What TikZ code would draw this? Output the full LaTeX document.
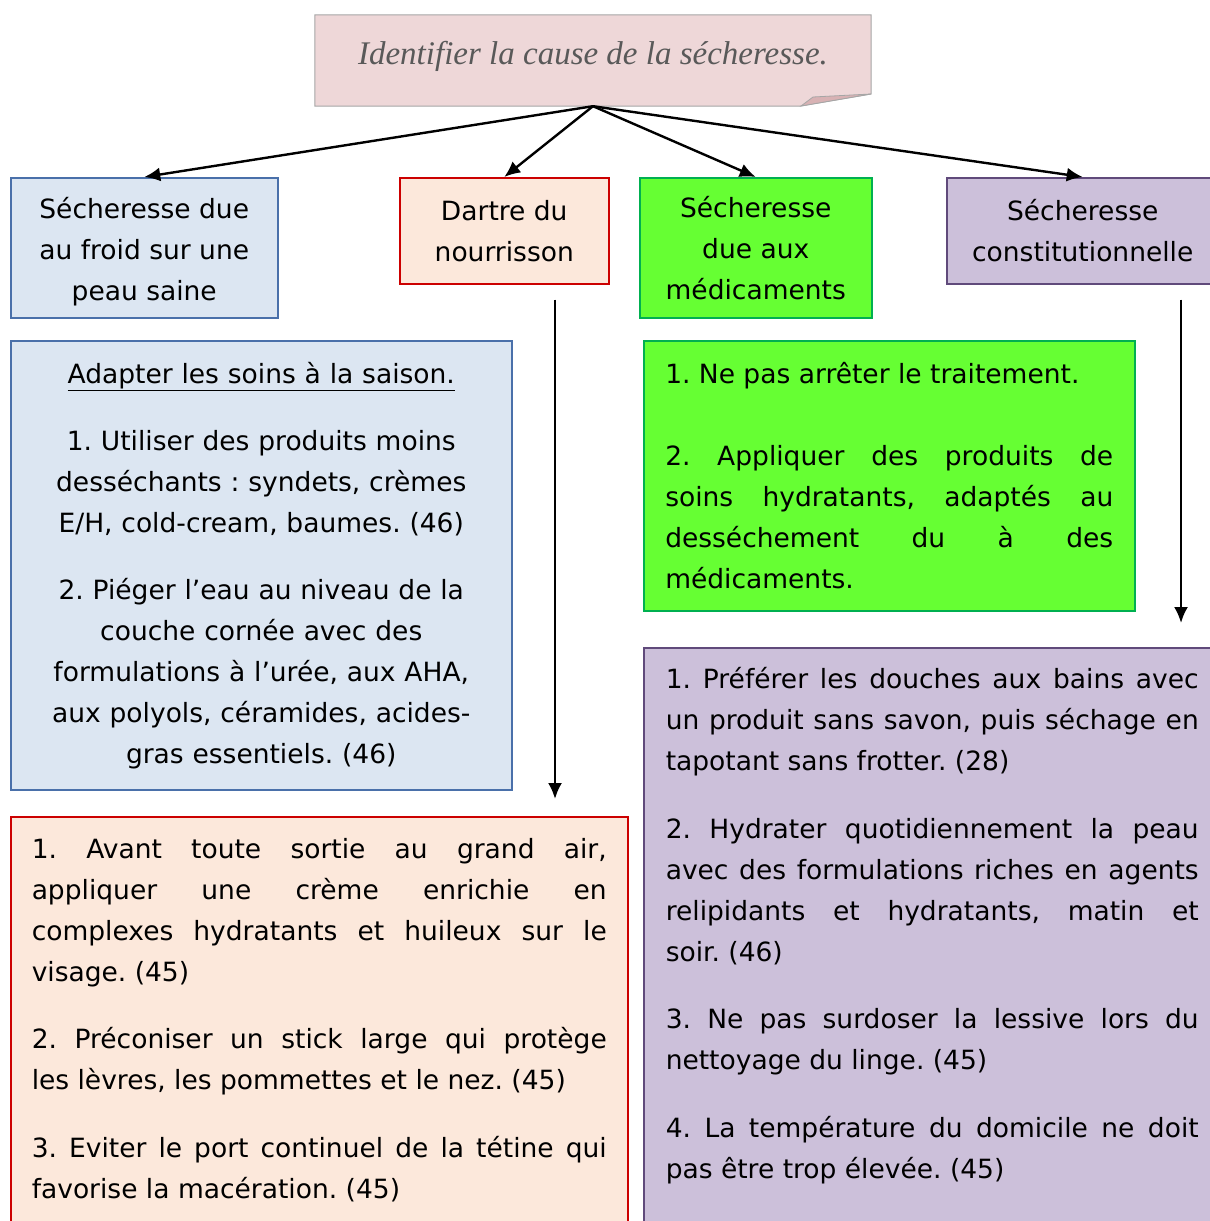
\documentclass[tikz,border=0pt]{standalone}
\usepackage{fontspec}
\setmainfont{DejaVu Sans}
\newfontfamily\titrefont{Liberation Serif}
\usetikzlibrary{arrows.meta,positioning}
\frenchspacing
\definecolor{roseF}{RGB}{238,215,216}
\definecolor{roseB}{RGB}{166,166,166}
\definecolor{roseP}{RGB}{216,178,180}
\definecolor{titreC}{RGB}{89,89,89}
\definecolor{bleuF}{RGB}{220,230,242}
\definecolor{bleuB}{RGB}{74,112,170}
\definecolor{rougeF}{RGB}{252,232,219}
\definecolor{rougeB}{RGB}{204,0,0}
\definecolor{vertF}{RGB}{102,255,51}
\definecolor{vertB}{RGB}{0,176,80}
\definecolor{violetF}{RGB}{204,192,218}
\definecolor{violetB}{RGB}{96,74,123}
\tikzset{
     boite/.style={draw=#1, rectangle, line width=1.5pt, inner sep=10pt},
     boite1/.style={boite=bleuB, fill=bleuF},
     boite2/.style={boite=rougeB, fill=rougeF},
     boite3/.style={boite=vertB, fill=vertF},
     boite4/.style={boite=violetB, fill=violetF},
     texte/.style={align=justify, inner xsep=21pt},
     fleche/.style={->, line width=2.4pt},
}
\tikzset{>={Latex[length=16pt,width=14pt]}}

\begin{document}
\begin{tikzpicture}[x=1pt, y=-1pt, font=\fontsize{26.5}{41}\selectfont]
		\useasboundingbox (0,0) rectangle (1210,1221);

		%% note du haut
		\node[minimum width=556pt, minimum height=91pt, inner sep=0pt] (cause) at (593,60.5) {};
		\filldraw[fill=roseF, draw=roseB, line width=1pt] (cause.north west) -- (cause.north east)
			-- (871,94) -- (801,106) -- (cause.south west) -- cycle;
		\filldraw[fill=roseP, draw=roseB, line width=0.8pt] (801,106) -- (813,97) -- (871,94) -- cycle;
		\node[font=\fontsize{33}{38}\selectfont\titrefont\itshape, text=titreC] (causetxt) at (593,56)
			{Identifier la cause de la sécheresse.};

		%% les quatre causes
		\node[boite1, minimum width=267pt, minimum height=140pt, anchor=north west, align=center]
			(froid) at (10,177) {\rule{0pt}{30pt}Sécheresse due\\au froid sur une\\peau saine};
		\node[boite2, minimum width=209pt, minimum height=106pt, anchor=north west, align=center]
			(dartre) at (399,177) {Dartre du\\nourrisson};
		\node[boite3, minimum width=232pt, minimum height=140pt, anchor=north west, align=center]
			(medic) at (639,177) {Sécheresse\\due aux\\médicaments};
		\node[boite4, minimum width=272pt, minimum height=106pt, anchor=north west, align=center]
			(constit) at (946,177) {Sécheresse\\constitutionnelle};

		\draw[fleche] (cause.south) -- (froid.north);
		\draw[fleche] (cause.south) -- (dartre.north);
		\draw[fleche] (cause.south) -- (medic.north);
		\draw[fleche] (cause.south) -- (constit.north);

		%% conseils
		\node[boite1, minimum width=501pt, minimum height=449pt, anchor=north west, align=center, text width=480pt]
			(froid2) at (10,340) {\underline{Adapter les soins à la saison.}\\[26pt]
			1. Utiliser des produits moins\\desséchants : syndets, crèmes\\E/H, cold-cream, baumes. (46)\\[26pt]
			2. Piéger l’eau au niveau de la\\couche cornée avec des\\formulations à l’urée, aux AHA,\\aux polyols, céramides, acides-\\gras essentiels. (46)};

		\node[boite3, texte, minimum width=491pt, minimum height=270pt, anchor=north west, text width=448pt]
			(medic2) at (643,340) {1. Ne pas arrêter le traitement.\par\vspace{41pt}
			2. Appliquer des produits de \linebreak soins hydratants, adaptés au \linebreak desséchement du à des \linebreak médicaments.};

		\node[boite2, texte, minimum width=617pt, minimum height=406pt, anchor=north west, text width=575pt]
			(dartre2) at (10,816) {1. Avant toute sortie au grand air, \linebreak appliquer une crème enrichie en \linebreak complexes hydratants et huileux sur le \linebreak visage. (45)\par\vspace{26.5pt}
			2. Préconiser un stick large qui protège \linebreak les lèvres, les pommettes et le nez. (45)\par\vspace{26.5pt}
			3. Eviter le port continuel de la tétine qui \linebreak favorise la macération. (45)};

		\node[boite4, texte, inner xsep=22pt, inner ysep=20pt, anchor=north west, text width=533pt]
			(constit2) at (643,647) {1. Préférer les douches aux bains avec \linebreak un produit sans savon, puis séchage en \linebreak tapotant sans frotter. (28)\par\vspace{26.5pt}
			2. Hydrater quotidiennement la peau \linebreak avec des formulations riches en agents \linebreak relipidants et hydratants, matin et \linebreak soir. (46)\par\vspace{26.5pt}
			3. Ne pas surdoser la lessive lors du \linebreak nettoyage du linge. (45)\par\vspace{26.5pt}
			4. La température du domicile ne doit \linebreak pas être trop élevée. (45)\par\vspace{30pt}\mbox{}};

		\coordinate (colB) at (555,0);
		\coordinate (colD) at (1181,0);
		\draw[fleche, shorten <=15pt, shorten >=17pt] (dartre.south -| colB) -- (dartre2.north -| colB);
		\draw[fleche, shorten <=15pt, shorten >=24pt] (constit.south -| colD) -- (constit2.north -| colD);
\end{tikzpicture}
\end{document}
